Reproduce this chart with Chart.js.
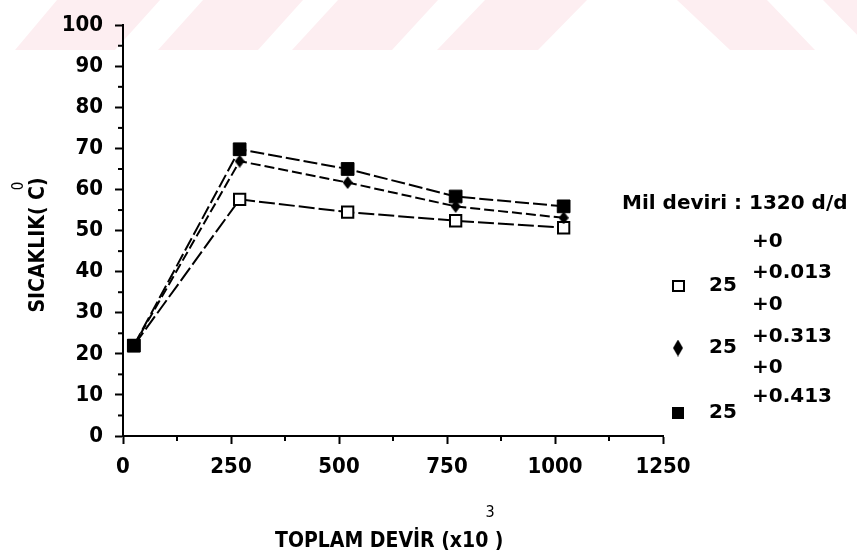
<!DOCTYPE html>
<html>
<head>
<meta charset="utf-8">
<script src="https://cdn.jsdelivr.net/npm/chart.js@4/dist/chart.umd.min.js"></script>
<style>
  html, body { margin: 0; padding: 0; background: #ffffff; }
  #wrap { width: 857px; height: 560px; }
</style>
</head>
<body>
<div id="wrap"><canvas id="c" width="857" height="560"></canvas></div>
<script>
// Total revolutions (x10^3) at which the temperature was measured
const revolutions = [25, 270, 520, 770, 1020];
// Bearing temperature (°C) for each shaft tolerance
const temp0013 = [22, 57.6, 54.5, 52.4, 50.7];
const temp0313 = [22, 66.9, 61.7, 55.9, 53.1];
const temp0413 = [22, 69.8, 65.0, 58.3, 55.9];
// Axis ticks
const xTicks = [0, 250, 500, 750, 1000, 1250];
const xMinorTicks = [125, 375, 625, 875, 1125];
const yTicks = [0, 10, 20, 30, 40, 50, 60, 70, 80, 90, 100];
const yMinorTicks = [5, 15, 25, 35, 45, 55, 65, 75, 85, 95];
// Texts
const speedText = 'Mil deviri : 1320 d/d';
const nominalSize = '25';
const lowerDev = '+0';
const upperDevs = ['+0.013', '+0.313', '+0.413'];
const xTitle = 'TOPLAM DEVİR (x10 )';
const yTitle = 'SICAKLIK( C)';

const FAMILY = "'DejaVu Sans Condensed', 'Liberation Sans', sans-serif";
const KEY_FAMILY = "'DejaVu Sans', 'Liberation Sans', sans-serif";

function diamond(w, h) {
  const c = document.createElement('canvas');
  c.width = w; c.height = h;
  const g = c.getContext('2d');
  g.fillStyle = '#000';
  g.beginPath();
  g.moveTo(w / 2, 0); g.lineTo(w, h / 2); g.lineTo(w / 2, h); g.lineTo(0, h / 2);
  g.closePath(); g.fill();
  return c;
}
const pointDiamond = diamond(10, 13);
const keyDiamond = diamond(10, 17);

// faint diagonal band across the top of the sheet
const bandPlugin = {
  id: 'band',
  beforeDraw(chart) {
    const ctx = chart.ctx;
    const shapes = [
      [[57, 160], [15, 115]],
      [[203, 303], [158, 258]],
      [[338, 438], [292, 392]],
      [[485, 587], [437, 538]],
      [[677, 767], [730, 815]],
      [[823, 913], [872, 962]]
    ];
    ctx.save();
    ctx.fillStyle = '#fdeef1';
    shapes.forEach(([t, b]) => {
      ctx.beginPath();
      ctx.moveTo(t[0], 0); ctx.lineTo(t[1], 0);
      ctx.lineTo(b[1], 50); ctx.lineTo(b[0], 50);
      ctx.closePath(); ctx.fill();
    });
    ctx.restore();
  }
};

// minor ticks, axis titles and the key
const decorPlugin = {
  id: 'decor',
  afterDraw(chart) {
    const ctx = chart.ctx;
    const xs = chart.scales.x, ys = chart.scales.y;
    const area = chart.chartArea;
    ctx.save();
    ctx.strokeStyle = '#000';
    ctx.lineWidth = 2;
    xMinorTicks.forEach(v => {
      const px = xs.getPixelForValue(v);
      ctx.beginPath(); ctx.moveTo(px, area.bottom); ctx.lineTo(px, area.bottom + 5); ctx.stroke();
    });
    yMinorTicks.forEach(v => {
      const py = ys.getPixelForValue(v);
      ctx.beginPath(); ctx.moveTo(area.left - 5, py); ctx.lineTo(area.left, py); ctx.stroke();
    });

    ctx.fillStyle = '#000';
    // y title with degree mark
    ctx.save();
    ctx.translate(39, 245);
    ctx.rotate(-Math.PI / 2);
    ctx.font = 'bold 21px ' + FAMILY;
    ctx.textAlign = 'center';
    ctx.textBaseline = 'middle';
    ctx.fillText(yTitle, 0, 0);
    ctx.restore();
    ctx.save();
    ctx.translate(19, 186);
    ctx.rotate(-Math.PI / 2);
    ctx.font = '15px ' + FAMILY;
    ctx.textAlign = 'center';
    ctx.textBaseline = 'middle';
    ctx.fillText('0', 0, 0);
    ctx.restore();

    // x title with exponent
    ctx.font = 'bold 21px ' + FAMILY;
    ctx.textAlign = 'left';
    ctx.textBaseline = 'middle';
    ctx.fillText(xTitle, 275, 542);
    ctx.font = '16px ' + FAMILY;
    ctx.textAlign = 'center';
    ctx.fillText('3', 490, 513);

    // key
    ctx.font = 'bold 20px ' + KEY_FAMILY;
    ctx.textAlign = 'left';
    ctx.fillText(speedText, 622, 204);
    const rows = [
      { lo: 242, hi: 273, mark: 286 },
      { lo: 305, hi: 337, mark: 348 },
      { lo: 368, hi: 397, mark: 413 }
    ];
    rows.forEach((r, i) => {
      ctx.fillText(lowerDev, 752, r.lo);
      ctx.fillText(upperDevs[i], 752, r.hi);
      ctx.fillText(nominalSize, 709, r.mark);
    });
    ctx.lineWidth = 2;
    ctx.fillStyle = '#fff';
    ctx.fillRect(673, rows[0].mark - 5, 11, 10);
    ctx.strokeRect(673, rows[0].mark - 5, 11, 10);
    ctx.drawImage(keyDiamond, 673, rows[1].mark - 8.5);
    ctx.fillStyle = '#000';
    ctx.fillRect(672, rows[2].mark - 6, 12, 12);
    ctx.restore();
  }
};

const toPoints = arr => arr.map((v, i) => ({ x: revolutions[i], y: v }));
const tickFont = { family: FAMILY, size: 22, weight: 'bold' };
const plainNumber = v => String(v);

new Chart(document.getElementById('c'), {
  type: 'line',
  data: {
    datasets: [
      {
        label: '25 +0 / +0.413',
        data: toPoints(temp0413),
        borderColor: '#000', borderWidth: 2, borderDash: [14, 4],
        pointStyle: 'rect', pointRadius: 9, pointBackgroundColor: '#000', pointBorderColor: '#000', pointBorderWidth: 1,
        order: 0
      },
      {
        label: '25 +0 / +0.313',
        data: toPoints(temp0313),
        borderColor: '#000', borderWidth: 2, borderDash: [10, 4],
        pointStyle: pointDiamond, pointRadius: 6,
        order: 1
      },
      {
        label: '25 +0 / +0.013',
        data: toPoints(temp0013),
        borderColor: '#000', borderWidth: 2, borderDash: [16, 4],
        pointStyle: 'rect', pointRadius: 8, pointBackgroundColor: '#fff', pointBorderColor: '#000', pointBorderWidth: 2,
        order: 2
      }
    ]
  },
  options: {
    responsive: false,
    devicePixelRatio: 1,
    animation: false,
    layout: { padding: { left: 0, right: 194, top: 16, bottom: 0 } },
    plugins: { legend: { display: false }, tooltip: { enabled: false } },
    scales: {
      x: {
        type: 'linear', min: 0, max: 1250,
        afterBuildTicks: s => { s.ticks = xTicks.map(v => ({ value: v })); },
        afterFit: s => { s.height = 124; },
        ticks: { font: tickFont, color: '#000', padding: 10, maxRotation: 0, callback: plainNumber },
        grid: { drawOnChartArea: false, tickLength: 8, tickWidth: 2, tickColor: '#000' },
        border: { color: '#000', width: 2 }
      },
      y: {
        type: 'linear', min: 0, max: 100,
        afterBuildTicks: s => { s.ticks = yTicks.map(v => ({ value: v })); },
        afterFit: s => { s.width = 123; },
        ticks: { font: tickFont, color: '#000', padding: 12, callback: plainNumber },
        grid: { drawOnChartArea: false, tickLength: 8, tickWidth: 2, tickColor: '#000' },
        border: { color: '#000', width: 2 }
      }
    }
  },
  plugins: [bandPlugin, decorPlugin]
});
</script>
</body>
</html>
